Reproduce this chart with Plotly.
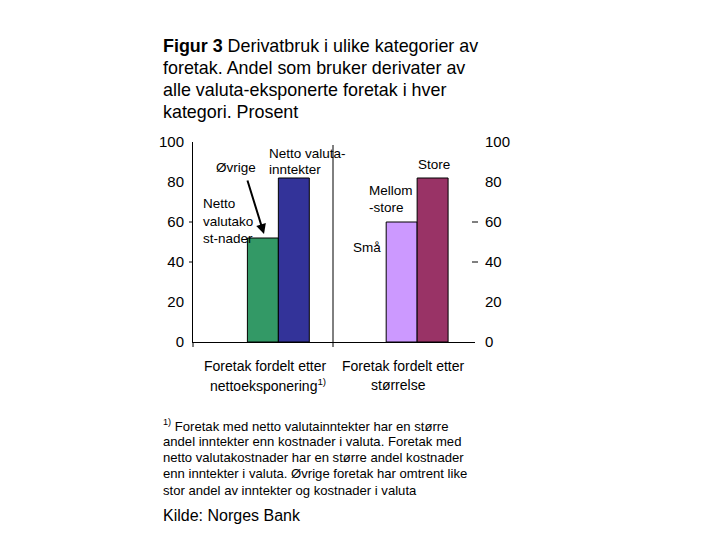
import plotly.graph_objects as go

# ---- data ----
categories = ["Foretak fordelt etter nettoeksponering", "Foretak fordelt etter størrelse"]
first_bar_values = [52, 60]      # Netto valutakostnader, Små
second_bar_values = [82, 82]     # Netto valutainntekter, Store
first_bar_colors = ["#339966", "#CC99FF"]
second_bar_colors = ["#333399", "#993366"]
y_ticks = [0, 20, 40, 60, 80, 100]

FONT = "Liberation Sans, Arial, sans-serif"

OFF = 8  # default page body margin
# plot area in page pixels
L, R, T, B = 193, 475, 142, 342
W, H = 720 - OFF, 540 - OFF

def xp(px):
    return (px - L) / (R - L)

def yp(py):
    return (B - py) / (B - T)

fig = go.Figure()
fig.add_trace(go.Bar(x=categories, y=first_bar_values,
                     marker=dict(color=first_bar_colors, line=dict(color="black", width=1)),
                     showlegend=False, hoverinfo="y"))
fig.add_trace(go.Bar(x=categories, y=second_bar_values,
                     marker=dict(color=second_bar_colors, line=dict(color="black", width=1)),
                     showlegend=False, hoverinfo="y"))
# invisible trace to carry the right axis
fig.add_trace(go.Scatter(x=[categories[0]], y=[None], yaxis="y2", showlegend=False,
                         hoverinfo="skip"))

fig.update_layout(
    width=W, height=H,
    margin=dict(l=L - OFF, r=720 - R, t=T - OFF, b=540 - B, pad=0),
    paper_bgcolor="white", plot_bgcolor="white",
    barmode="group", bargap=0.554, bargroupgap=0,
    font=dict(family=FONT, color="black"),
    xaxis=dict(type="category", range=[-0.615, 1.417], showticklabels=False,
               showline=True, linecolor="black", linewidth=1, ticks="",
               showgrid=False, zeroline=False, fixedrange=True),
    yaxis=dict(range=[0, 100], tickvals=y_ticks, showline=True, linecolor="black",
               linewidth=1, ticks="", showgrid=False, zeroline=False,
               tickfont=dict(size=15, family=FONT), ticklabelstandoff=5),
    yaxis2=dict(range=[0, 100], tickvals=y_ticks, overlaying="y", side="right",
                showline=False, ticks="", showgrid=False, zeroline=False,
                tickfont=dict(size=15, family=FONT), ticklabelstandoff=9),
)

shapes = []
# separator line between the two groups
shapes.append(dict(type="line", xref="paper", yref="paper", x0=xp(333), x1=xp(333),
                   y0=0, y1=yp(145), line=dict(color="black", width=1)))
# bottom ticks
for px in (193, 333):
    shapes.append(dict(type="line", xref="paper", yref="paper", x0=xp(px), x1=xp(px),
                       y0=0, y1=yp(347), line=dict(color="black", width=1)))
# left and right small ticks at 60 and 40
for v in (60, 40):
    shapes.append(dict(type="line", xref="paper", yref="y", x0=xp(189), x1=xp(193),
                       y0=v, y1=v, line=dict(color="black", width=1)))
    shapes.append(dict(type="line", xref="paper", yref="y", x0=xp(472), x1=xp(478),
                       y0=v, y1=v, line=dict(color="black", width=1)))
fig.update_layout(shapes=shapes)

ann = []
def text(px, py, s, size, xanchor="left", align="left", yanchor="middle"):
    ann.append(dict(xref="paper", yref="paper", x=xp(px), y=yp(py), text=s,
                    showarrow=False, xanchor=xanchor, yanchor=yanchor, align=align,
                    font=dict(size=size, family=FONT, color="black")))

# title
title_lines = ["<b>Figur 3</b> Derivatbruk i ulike kategorier av",
               "foretak. Andel som bruker derivater av",
               "alle valuta-eksponerte foretak i hver",
               "kategori. Prosent"]
for i, s in enumerate(title_lines):
    text(161, 46 + 22 * i, s, 17.9)

# in-plot labels
text(267, 153, "Netto valuta-", 13.5)
text(267, 169, "inntekter", 13.5)
text(214, 167, "Øvrige", 13.5)
text(201, 203, "Netto", 13.5)
text(201, 221, "valutako", 13.5)
text(201, 238, "st-nader", 13.5)
text(416, 164, "Store", 13.5)
text(367, 190, "Mellom", 13.5)
text(367, 207, "-store", 13.5)
text(351, 247, "Små", 13.5)

# arrow from Øvrige
ann.append(dict(xref="paper", yref="paper", x=xp(264), y=yp(234), ax=-17, ay=-55,
                axref="pixel", ayref="pixel", text="", showarrow=True,
                arrowhead=2, arrowsize=1, arrowwidth=2, arrowcolor="black"))

# category labels
text(265, 366, "Foretak fordelt etter", 14, xanchor="center")
text(268, 385, "nettoeksponering<sup>1)</sup>", 14, xanchor="center")
text(403, 366, "Foretak fordelt etter", 14, xanchor="center")
text(398, 385, "størrelse", 14, xanchor="center")

# footnote
foot_lines = ["<sup>1)</sup> Foretak med netto valutainntekter har en større",
              "andel inntekter enn kostnader i valuta. Foretak med",
              "netto valutakostnader har en større andel kostnader",
              "enn inntekter i valuta. Øvrige foretak har omtrent like",
              "stor andel av inntekter og kostnader i valuta"]
for i, s in enumerate(foot_lines):
    text(161, 425 + 16.3 * i, s, 13.1)

text(161, 515, "Kilde: Norges Bank", 16)

fig.update_layout(annotations=ann)
fig.write_html("out.html")
